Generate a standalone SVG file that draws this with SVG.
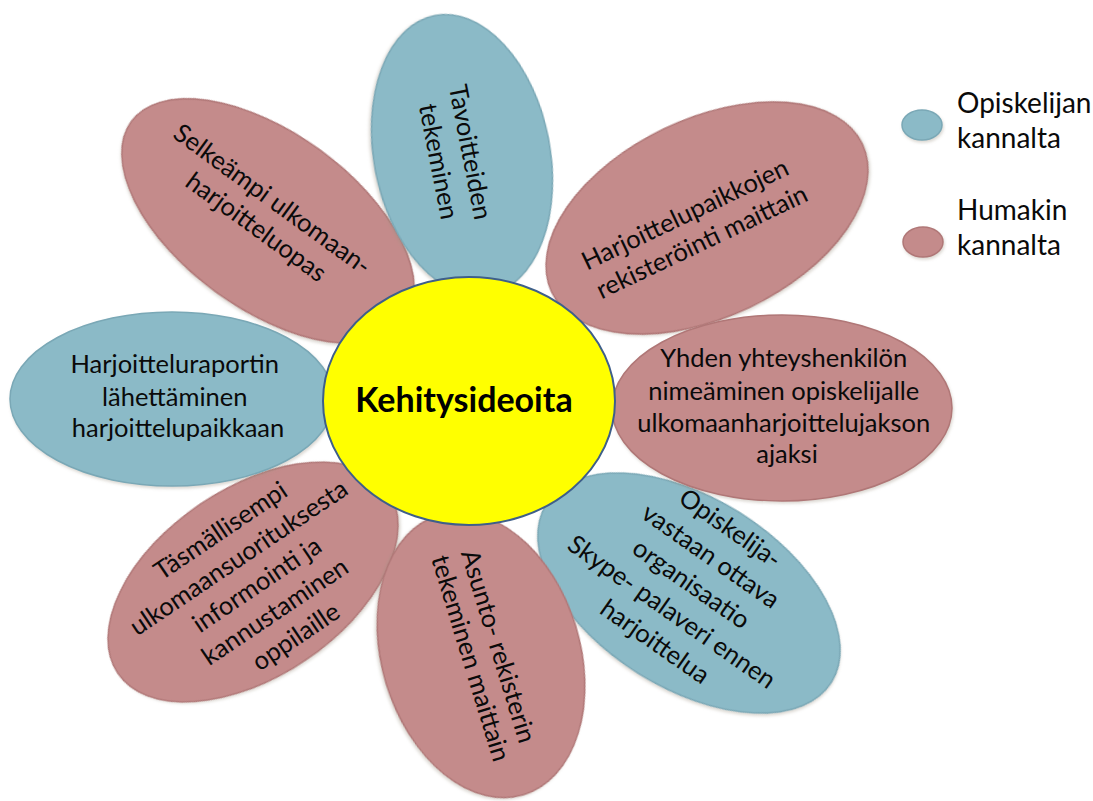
<svg xmlns="http://www.w3.org/2000/svg" width="1093" height="801" viewBox="0 0 1093 801">
  <defs>
    <filter id="soft" x="-10%" y="-10%" width="120%" height="125%">
      <feDropShadow dx="1" dy="2" stdDeviation="1.5" flood-color="#9A9080" flood-opacity="0.35"/>
    </filter>
  </defs>
  <style>
    .blue { fill: #8BBAC7; stroke: #7AA8B6; stroke-width: 1.5; filter: url(#soft); }
    .red { fill: #C48B8B; stroke: #B07777; stroke-width: 1.5; filter: url(#soft); }
    .core { fill: #FFFF00; stroke: #3E5F8A; stroke-width: 2; }
    .lbl { font-family: Lato, "Liberation Sans", sans-serif; font-size: 25.5px; fill: #0A0A0A; text-anchor: middle; }
    .leg { font-family: Lato, "Liberation Sans", sans-serif; font-size: 28px; fill: #0A0A0A; }
    .title { font-family: Lato, "Liberation Sans", sans-serif; font-size: 34px; font-weight: bold; fill: #000; text-anchor: middle; }
  </style>
  <rect width="1093" height="801" fill="#FFFFFF"/>

  <!-- petals, back to front -->
  <g id="petal-lower-left" transform="translate(253,582) rotate(-34)">
    <ellipse class="red" rx="163" ry="94"/>
    <text class="lbl">
      <tspan x="5" y="-52">Täsmällisempi</tspan>
      <tspan x="5" y="-19.5">ulkomaansuorituksesta</tspan>
      <tspan x="5" y="13">informointi ja</tspan>
      <tspan x="5" y="45.5">kannustaminen</tspan>
      <tspan x="5" y="78">oppilaille</tspan>
    </text>
  </g>

  <g id="petal-left" transform="translate(172,399)">
    <ellipse class="blue" rx="162" ry="87"/>
    <text class="lbl">
      <tspan x="6" y="-26">Harjoitteluraportin</tspan>
      <tspan x="6" y="7">lähettäminen</tspan>
      <tspan x="6" y="38">harjoittelupaikkaan</tspan>
    </text>
  </g>

  <g id="petal-upper-left" transform="translate(268,221) rotate(36)">
    <ellipse class="red" rx="169" ry="88"/>
    <text class="lbl">
      <tspan x="-6" y="-11.5">Selkeämpi ulkomaan-</tspan>
      <tspan x="-6" y="20.5">harjoitteluopas</tspan>
    </text>
  </g>

  <g id="petal-top" transform="translate(462,155) rotate(79)">
    <ellipse class="blue" rx="142" ry="88"/>
    <text class="lbl">
      <tspan x="2" y="0">Tavoitteiden</tspan>
      <tspan x="2" y="33">tekeminen</tspan>
    </text>
  </g>

  <g id="petal-upper-right" transform="translate(707,218) rotate(-25.5)">
    <ellipse class="red" rx="172" ry="99"/>
    <text class="lbl">
      <tspan x="-15" y="-4">Harjoittelupaikkojen</tspan>
      <tspan x="-15" y="28">rekisteröinti maittain</tspan>
    </text>
  </g>

  <g id="petal-lower-right" transform="translate(689,593)">
    <ellipse class="blue" rx="168" ry="95" transform="rotate(32)"/>
    <text class="lbl" transform="rotate(35)">
      <tspan x="0" y="-68">Opiskelija-</tspan>
      <tspan x="0" y="-34">vastaan ottava</tspan>
      <tspan x="0" y="0">organisaatio</tspan>
      <tspan x="0" y="34">Skype- palaveri ennen</tspan>
      <tspan x="0" y="68">harjoittelua</tspan>
    </text>
  </g>

  <g id="petal-right" transform="translate(782,408)">
    <ellipse class="red" rx="170" ry="93"/>
    <text class="lbl">
      <tspan x="5" y="-41">Yhden yhteyshenkilön</tspan>
      <tspan x="5" y="-8">nimeäminen opiskelijalle</tspan>
      <tspan x="5" y="24">ulkomaanharjoittelujakson</tspan>
      <tspan x="5" y="55">ajaksi</tspan>
    </text>
  </g>

  <g id="petal-bottom" transform="translate(481,655) rotate(73)">
    <ellipse class="red" rx="146" ry="99"/>
    <text class="lbl">
      <tspan x="0" y="-10.5">Asunto- rekisterin</tspan>
      <tspan x="0" y="19.5">tekeminen maittain</tspan>
    </text>
  </g>

  <!-- centre of the flower -->
  <g id="center">
    <ellipse class="core" cx="469" cy="401" rx="146" ry="124"/>
    <text class="title" x="464" y="412">Kehitysideoita</text>
  </g>

  <!-- legend -->
  <g id="legend-student">
    <ellipse class="blue" cx="922" cy="125" rx="20" ry="15"/>
    <text class="leg" x="957" y="113">Opiskelijan</text>
    <text class="leg" x="957" y="148">kannalta</text>
  </g>
  <g id="legend-humak">
    <ellipse class="red" cx="923" cy="242" rx="20" ry="15"/>
    <text class="leg" x="957" y="220">Humakin</text>
    <text class="leg" x="957" y="255">kannalta</text>
  </g>

  <g id="connectors"/>
</svg>
